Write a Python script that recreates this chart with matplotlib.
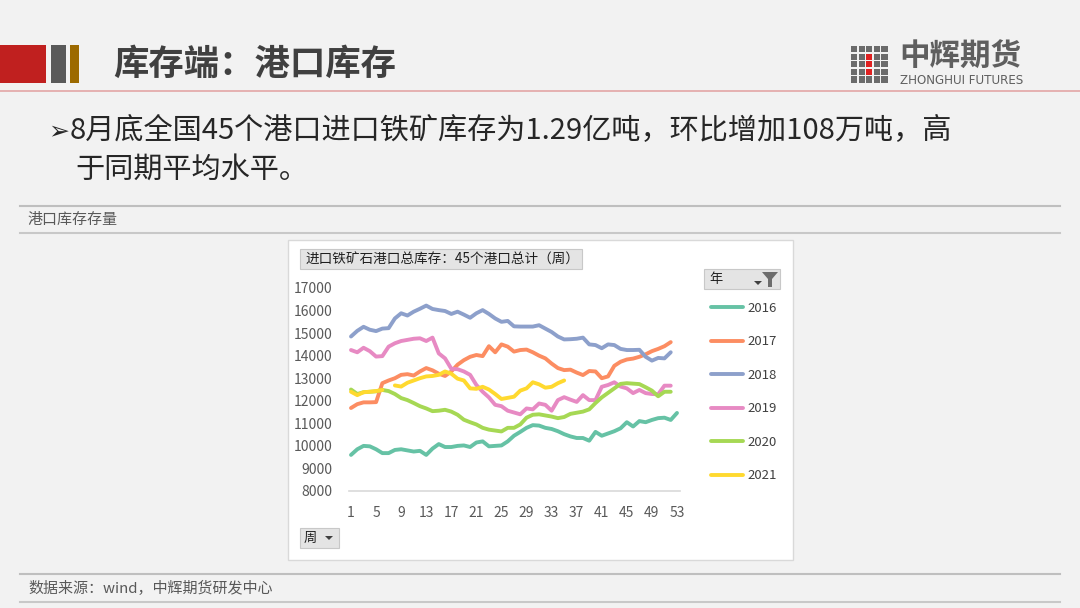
import numpy as np
import matplotlib
matplotlib.use("Agg")
import matplotlib.pyplot as plt
from matplotlib.patches import Rectangle, Polygon
from matplotlib.lines import Line2D

plt.rcParams['font.family'] = ['Noto Sans CJK SC', 'DejaVu Sans']

# ---------------- data ----------------
years = ["2016", "2017", "2018", "2019", "2020", "2021"]
colors = ["#66c2a5", "#fc8d62", "#8da0cb", "#e78ac3", "#a6d854", "#ffd92f"]

y2016 = [9600, 9850, 10000, 9980, 9850, 9680, 9680, 9820, 9850, 9800,
         9750, 9780, 9600, 9880, 10080, 9950, 9950, 10000, 10020, 9950,
         10150, 10200, 9980, 10000, 10020, 10200, 10450, 10620, 10800, 10920,
         10900, 10800, 10750, 10650, 10520, 10420, 10350, 10350, 10230, 10620,
         10450, 10550, 10650, 10780, 11050, 10860, 11100, 11050, 11150, 11230,
         11250, 11150, 11460]
y2017 = [11680, 11850, 11930, 11930, 11940, 12780, 12900, 13000, 13150, 13180,
         13120, 13300, 13450, 13350, 13200, 13100, 13300, 13600, 13800, 13950,
         14030, 13980, 14420, 14150, 14500, 14400, 14180, 14250, 14270, 14150,
         14000, 13880, 13650, 13450, 13360, 13380, 13250, 13140, 13320, 13300,
         13000, 13080, 13550, 13730, 13830, 13870, 13950, 14060, 14200, 14300,
         14420, 14600]
y2018 = [14850, 15100, 15280, 15150, 15090, 15200, 15220, 15650, 15880, 15780,
         15950, 16080, 16220, 16070, 16020, 15980, 15850, 15950, 15820, 15680,
         15880, 16020, 15850, 15650, 15500, 15540, 15300, 15290, 15290, 15290,
         15350, 15200, 15050, 14850, 14720, 14730, 14750, 14800, 14500, 14470,
         14330, 14500, 14470, 14300, 14250, 14250, 14260, 13950, 13780, 13900,
         13880, 14150]
y2019 = [14250, 14150, 14350, 14200, 13960, 13980, 14400, 14550, 14650, 14700,
         14750, 14770, 14650, 14800, 14100, 13880, 13420, 13400, 13300, 13150,
         12700, 12400, 12150, 11820, 11760, 11560, 11480, 11400, 11660, 11620,
         11880, 11820, 11560, 12030, 12160, 12050, 11950, 12250, 12030, 12030,
         12620, 12700, 12820, 12630, 12550, 12340, 12480, 12340, 12300, 12290,
         12670, 12670]
y2020 = [12500, 12300, 12380, 12400, 12420, 12480, 12430, 12300, 12120, 12030,
         11900, 11760, 11660, 11540, 11560, 11600, 11520, 11380, 11160, 11050,
         10950, 10800, 10720, 10680, 10640, 10800, 10800, 10950, 11250, 11380,
         11400, 11350, 11300, 11230, 11280, 11420, 11470, 11520, 11620, 11900,
         12150, 12350, 12550, 12750, 12780, 12760, 12740, 12600, 12450, 12200,
         12400, 12400]
y2021 = [12400, 12250, 12380, 12400, 12430, 12480, np.nan, 12680, 12630, 12800,
         12900, 13000, 13080, 13100, 13150, 13300, 13200, 12980, 12900, 12550,
         12530, 12620, 12500, 12300, 12080, 12130, 12180, 12450, 12550, 12820,
         12730, 12580, 12620, 12780, 12900]
series = [y2016, y2017, y2018, y2019, y2020, y2021]

x_ticks = list(range(1, 54, 4))
y_ticks = list(range(8000, 17001, 1000))

title_text = "库存端：港口库存"
bullet_line1 = "8月底全国45个港口进口铁矿库存为1.29亿吨，环比增加108万吨，高"
bullet_line2 = "于同期平均水平。"
section_text = "港口库存存量"
source_text = "数据来源：wind，中辉期货研发中心"
chart_title = "进口铁矿石港口总库存：45个港口总计（周）"

# ---------------- figure ----------------
W, H = 1080, 608
fig = plt.figure(figsize=(W / 100, H / 100), dpi=100, facecolor="#f2f2f2")


def fx(x):
    return x / W


def fy(y):
    return 1 - y / H


def rect(x0, y0, x1, y1, z=1, **kw):
    fig.patches.append(Rectangle((fx(x0), fy(y1)), (x1 - x0) / W, (y1 - y0) / H,
                                 transform=fig.transFigure, zorder=z, **kw))


def hline(y, x0, x1, color, lw):
    fig.lines.append(Line2D([fx(x0), fx(x1)], [fy(y), fy(y)], transform=fig.transFigure,
                            color=color, lw=lw))


# header blocks
rect(0, 45, 46, 83, color="#c0201f", lw=0)
rect(51, 45, 66, 83, color="#595959", lw=0)
rect(70, 45, 79, 83, color="#9c6a00", lw=0)
fig.text(fx(113), fy(64), title_text, fontsize=25.5, fontweight="bold", color="#404040",
         va="center", ha="left")
hline(91, 0, 1080, "#e3a6a6", 1.2)

# logo
sq = 6.2
for r in range(5):
    for c in range(5):
        col = "#6b6b6b"
        if c == 2 and 1 <= r <= 3:
            col = "#e02020"
        rect(851 + c * 7.6, 46 + r * 7.6, 851 + c * 7.6 + sq, 46 + r * 7.6 + sq, color=col, lw=0)
fig.text(fx(899), fy(57), "中辉期货", fontsize=22, fontweight="bold", color="#5f5f5f",
         va="center", ha="left")
fig.text(fx(900), fy(81), "ZHONGHUI FUTURES", fontsize=8.6, color="#5f5f5f",
         va="center", ha="left", family=["DejaVu Sans"])

# bullet text
fig.text(fx(48), fy(131), "➢", fontsize=18, color="#262626", va="center", ha="left",
         family=["DejaVu Sans"])
fig.text(fx(70), fy(131), bullet_line1, fontsize=21, color="#262626", va="center", ha="left")
fig.text(fx(75), fy(170), bullet_line2, fontsize=21, color="#262626", va="center", ha="left")

# section lines and texts
hline(206, 20, 1060, "#bfbfbf", 1.5)
fig.text(fx(28), fy(220), section_text, fontsize=10.8, color="#595959", va="center", ha="left")
hline(233, 20, 1060, "#c8c8c8", 1.5)
hline(574, 20, 1060, "#bfbfbf", 1.5)
fig.text(fx(28), fy(588), source_text, fontsize=10.8, color="#595959", va="center", ha="left")
hline(602, 20, 1060, "#c8c8c8", 1.5)

# chart panel (behind the axes)
rect(288, 240, 793, 560, z=0.5, facecolor="white", edgecolor="#d9d9d9", lw=1)

# title button
rect(300, 249, 582, 269, facecolor="#e4e4e4", edgecolor="#c8c8c8", lw=0.8)
fig.text(fx(306), fy(259.5), chart_title, fontsize=9.8, color="#1f1f1f", va="center", ha="left")

# year button
rect(704, 269, 780, 289, facecolor="#e4e4e4", edgecolor="#c8c8c8", lw=0.8)
fig.text(fx(709), fy(279.5), "年", fontsize=9.5, color="#1f1f1f", va="center", ha="left")
fig.patches.append(Polygon([[fx(754), fy(281)], [fx(762), fy(281)], [fx(758), fy(285)]],
                           closed=True, transform=fig.transFigure, color="#404040", lw=0))
fig.patches.append(Polygon([[fx(762), fy(272)], [fx(778), fy(272)], [fx(772), fy(279)],
                            [fx(772), fy(287)], [fx(768), fy(287)], [fx(768), fy(279)]],
                           closed=True, transform=fig.transFigure, color="#6d6d6d", lw=0))

# week button
rect(300, 528, 339, 548, facecolor="#e4e4e4", edgecolor="#c8c8c8", lw=0.8)
fig.text(fx(304), fy(538.5), "周", fontsize=9.5, color="#1f1f1f", va="center", ha="left")
fig.patches.append(Polygon([[fx(325), fy(536)], [fx(333), fy(536)], [fx(329), fy(540)]],
                           closed=True, transform=fig.transFigure, color="#404040", lw=0))

# ---------------- plot ----------------
ax = fig.add_axes([fx(349), fy(491), (680 - 349) / W, (491 - 288) / H])
ax.set_zorder(2)
ax.set_facecolor("white")
for name, vals, col in zip(years, series, colors):
    wk = np.arange(1, len(vals) + 1)
    ax.plot(wk, vals, color=col, lw=2.8, label=name, solid_capstyle="round",
            solid_joinstyle="round")

ax.set_xlim(0.68, 53.48)
ax.set_ylim(8000, 17000)
ax.set_xticks(x_ticks)
ax.set_yticks(y_ticks)
ax.tick_params(axis="both", length=0, labelsize=10, labelcolor="#595959")
ax.tick_params(axis="x", pad=11)
ax.tick_params(axis="y", pad=12)
for s in ["top", "right", "left"]:
    ax.spines[s].set_visible(False)
ax.spines["bottom"].set_color("#d9d9d9")
ax.spines["bottom"].set_linewidth(1.2)

handles, labels = ax.get_legend_handles_labels()
leg = fig.legend(handles, labels, loc="upper left", bbox_to_anchor=(fx(711), fy(302)),
                 frameon=False, fontsize=9.5, labelcolor="#404040", handlelength=2.4,
                 handletextpad=0.4, labelspacing=1.55, borderaxespad=0, borderpad=0)
leg.set_zorder(3)

fig.savefig("out.png", dpi=100, facecolor=fig.get_facecolor())
